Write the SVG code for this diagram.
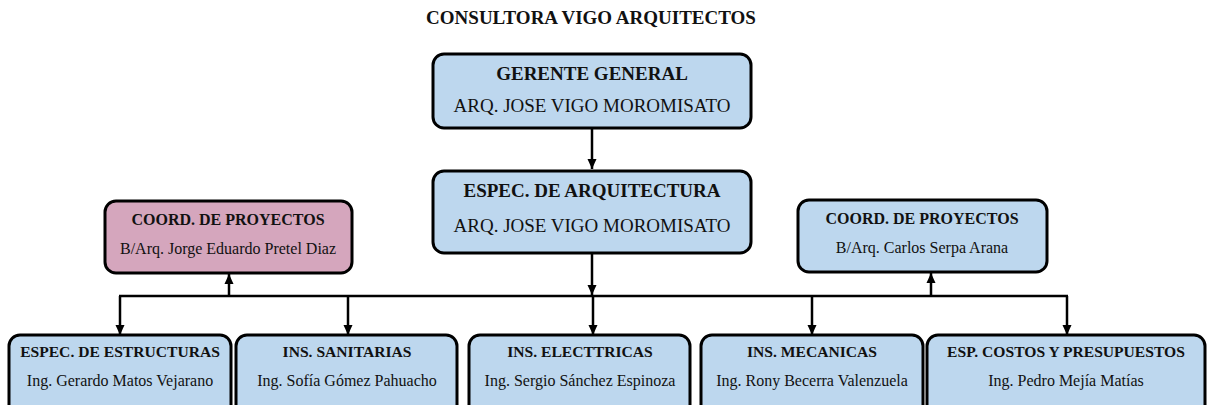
<svg xmlns="http://www.w3.org/2000/svg" width="1211" height="405" viewBox="0 0 1211 405">
<style>
.box{fill:#bdd7ee;stroke:#000;stroke-width:3}
.pink{fill:#d5a6bd}
.t{font-family:"Liberation Serif","Times New Roman",serif;fill:#111;text-anchor:middle}
.b{font-weight:bold}
.big{font-size:19px}
.sm{font-size:16px}
.smb{font-size:15.6px}
.c{stroke:#000;stroke-width:2.5;fill:none}
</style>
<defs>
<marker id="ah" markerUnits="userSpaceOnUse" markerWidth="10" markerHeight="10" viewBox="0 0 10 10" refX="10" refY="5" orient="auto">
<path d="M0,0.5 L10,5 L0,9.5 Z" fill="#000"/>
</marker>
</defs>
<rect width="1211" height="405" fill="#fff"/>
<text class="t b big" x="591" y="24">CONSULTORA VIGO ARQUITECTOS</text>
<g id="connectors">
<line class="c" x1="592" y1="128" x2="592" y2="169" marker-end="url(#ah)"/>
<line class="c" x1="592" y1="253" x2="592" y2="295" marker-end="url(#ah)"/>
<line class="c" x1="119" y1="296" x2="1068" y2="296"/>
<line class="c" x1="120" y1="296" x2="120" y2="335" marker-end="url(#ah)"/>
<line class="c" x1="348" y1="296" x2="348" y2="335" marker-end="url(#ah)"/>
<line class="c" x1="593" y1="296" x2="593" y2="335" marker-end="url(#ah)"/>
<line class="c" x1="812" y1="296" x2="812" y2="335" marker-end="url(#ah)"/>
<line class="c" x1="1067" y1="296" x2="1067" y2="335" marker-end="url(#ah)"/>
<line class="c" x1="229" y1="296" x2="229" y2="274" marker-end="url(#ah)"/>
<line class="c" x1="931" y1="296" x2="931" y2="273" marker-end="url(#ah)"/>
</g>
<g id="gerente">
<rect class="box" x="433" y="54" width="318" height="74" rx="11"/>
<text class="t b big" x="592" y="80">GERENTE GENERAL</text>
<text class="t big" x="592" y="112">ARQ. JOSE VIGO MOROMISATO</text>
</g>
<g id="espec-arq">
<rect class="box" x="433" y="171" width="318" height="82" rx="11"/>
<text class="t b big" x="592" y="197">ESPEC. DE ARQUITECTURA</text>
<text class="t big" x="592" y="232">ARQ. JOSE VIGO MOROMISATO</text>
</g>
<g id="coord-left">
<rect class="box pink" x="105" y="201" width="247" height="72" rx="11"/>
<text class="t b sm" x="228" y="225">COORD. DE PROYECTOS</text>
<text class="t sm" x="228" y="254">B/Arq. Jorge Eduardo Pretel Diaz</text>
</g>
<g id="coord-right">
<rect class="box" x="798" y="200" width="249" height="72" rx="11"/>
<text class="t b sm" x="922" y="224">COORD. DE PROYECTOS</text>
<text class="t sm" x="922" y="253">B/Arq. Carlos Serpa Arana</text>
</g>
<g id="estructuras">
<rect class="box" x="9" y="335" width="222" height="85" rx="11"/>
<text class="t b smb" x="120" y="357">ESPEC. DE ESTRUCTURAS</text>
<text class="t sm" x="120" y="386">Ing. Gerardo Matos Vejarano</text>
</g>
<g id="sanitarias">
<rect class="box" x="236" y="335" width="221" height="85" rx="11"/>
<text class="t b smb" x="347" y="357">INS. SANITARIAS</text>
<text class="t sm" x="347" y="386">Ing. Sofía Gómez Pahuacho</text>
</g>
<g id="electricas">
<rect class="box" x="469" y="335" width="221" height="85" rx="11"/>
<text class="t b smb" x="580" y="357">INS. ELECTTRICAS</text>
<text class="t sm" x="580" y="386">Ing. Sergio Sánchez Espinoza</text>
</g>
<g id="mecanicas">
<rect class="box" x="701" y="335" width="222" height="85" rx="11"/>
<text class="t b smb" x="812" y="357">INS. MECANICAS</text>
<text class="t sm" x="812" y="386">Ing. Rony Becerra Valenzuela</text>
</g>
<g id="costos">
<rect class="box" x="927" y="335" width="278" height="85" rx="11"/>
<text class="t b smb" x="1066" y="357">ESP. COSTOS Y PRESUPUESTOS</text>
<text class="t sm" x="1066" y="386">Ing. Pedro Mejía Matías</text>
</g>
</svg>
